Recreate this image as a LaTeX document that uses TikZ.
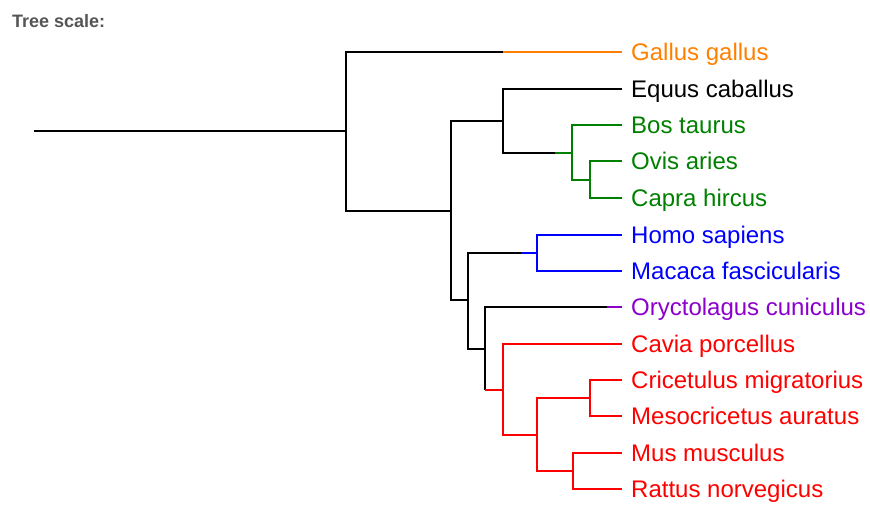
\documentclass[tikz,border=0pt]{standalone}
\usepackage{fontspec}
\setmainfont{Liberation Sans}
\usetikzlibrary{positioning, calc}
\definecolor{cladeorange}{RGB}{255,128,0}
\definecolor{cladegreen}{RGB}{0,128,0}
\definecolor{cladeblue}{RGB}{0,0,255}
\definecolor{cladepurple}{RGB}{140,0,204}
\definecolor{cladered}{RGB}{255,0,0}
\definecolor{scalegray}{RGB}{85,85,85}

\begin{document}
\begin{tikzpicture}[x=1pt, y=-1pt,
    leaf/.style={anchor=west, inner xsep=9pt, inner ysep=0pt, text height=22pt, text depth=5pt, font=\fontsize{24}{28}\selectfont},
    branch/.style={line width=1.2pt},
    title/.style={anchor=base west, inner sep=0pt, font=\bfseries\fontsize{18}{20}\selectfont, text=scalegray}
]
    \useasboundingbox (0,0) rectangle (870,504);

    % Title
    \node[title] (scale) at (12,27.5) {Tree scale:};

    % Leaves
    \node[leaf, text=cladeorange] (gallus)  at (622,52)  {Gallus gallus};
    \node[leaf]                   (equus)   at (622,89)  {Equus caballus};
    \node[leaf, text=cladegreen]  (bos)     at (622,125) {Bos taurus};
    \node[leaf, text=cladegreen]  (ovis)    at (622,161) {Ovis aries};
    \node[leaf, text=cladegreen]  (capra)   at (622,198) {Capra hircus};
    \node[leaf, text=cladeblue]   (homo)    at (622,235) {Homo sapiens};
    \node[leaf, text=cladeblue]   (macaca)  at (622,271) {Macaca fascicularis};
    \node[leaf, text=cladepurple] (oryct)   at (622,307) {Oryctolagus cuniculus};
    \node[leaf, text=cladered]    (cavia)   at (622,344) {Cavia porcellus};
    \node[leaf, text=cladered]    (cricet)  at (622,380) {Cricetulus migratorius};
    \node[leaf, text=cladered]    (meso)    at (622,416) {Mesocricetus auratus};
    \node[leaf, text=cladered]    (mus)     at (622,453) {Mus musculus};
    \node[leaf, text=cladered]    (rattus)  at (622,489) {Rattus norvegicus};

    % Inner nodes
    \coordinate (start)     at (34,131);
    \coordinate (root)      at (346,131);
    \coordinate (mammals)   at (451,211);
    \coordinate (laurasia)  at (503,121);
    \coordinate (bovids)    at (572,153);
    \coordinate (caprines)  at (590,180);
    \coordinate (euarch)    at (468,300);
    \coordinate (primates)  at (537,253);
    \coordinate (glires)    at (485,349);
    \coordinate (rodents)   at (503,390);
    \coordinate (muroids)   at (537,435);
    \coordinate (cricetids) at (590,398);
    \coordinate (murids)    at (573,471);

    % Where a branch changes colour
    \coordinate (gallussplit) at (503,52);
    \coordinate (bovidsplit)  at (555,153);
    \coordinate (primsplit)   at (521,253);
    \coordinate (oryctsplit)  at (607,307);

    % Black backbone
    \draw[branch] (start) -- (root);
    \draw[branch] (root) |- (gallussplit);
    \draw[branch] (root) |- (mammals);
    \draw[branch] (mammals) |- (laurasia);
    \draw[branch] (mammals) |- (euarch);
    \draw[branch] (laurasia) |- (equus.west);
    \draw[branch] (laurasia) |- (bovidsplit);
    \draw[branch] (euarch) |- (primsplit);
    \draw[branch] (euarch) |- (glires);
    \draw[branch] (glires) |- (oryctsplit);
    \draw[branch] (glires) -- (glires |- rodents);

    % Coloured clades
    \draw[branch, cladeorange] (gallussplit) -- (gallus.west);

    \draw[branch, cladegreen] (bovidsplit) -- (bovids);
    \draw[branch, cladegreen] (bovids) |- (bos.west);
    \draw[branch, cladegreen] (bovids) |- (caprines);
    \draw[branch, cladegreen] (caprines) |- (ovis.west);
    \draw[branch, cladegreen] (caprines) |- (capra.west);

    \draw[branch, cladeblue] (primsplit) -- (primates);
    \draw[branch, cladeblue] (primates) |- (homo.west);
    \draw[branch, cladeblue] (primates) |- (macaca.west);

    \draw[branch, cladepurple] (oryctsplit) -- (oryct.west);

    \draw[branch, cladered] (glires |- rodents) -- (rodents);
    \draw[branch, cladered] (rodents) |- (cavia.west);
    \draw[branch, cladered] (rodents) |- (muroids);
    \draw[branch, cladered] (muroids) |- (cricetids);
    \draw[branch, cladered] (muroids) |- (murids);
    \draw[branch, cladered] (cricetids) |- (cricet.west);
    \draw[branch, cladered] (cricetids) |- (meso.west);
    \draw[branch, cladered] (murids) |- (mus.west);
    \draw[branch, cladered] (murids) |- (rattus.west);
\end{tikzpicture}
\end{document}
